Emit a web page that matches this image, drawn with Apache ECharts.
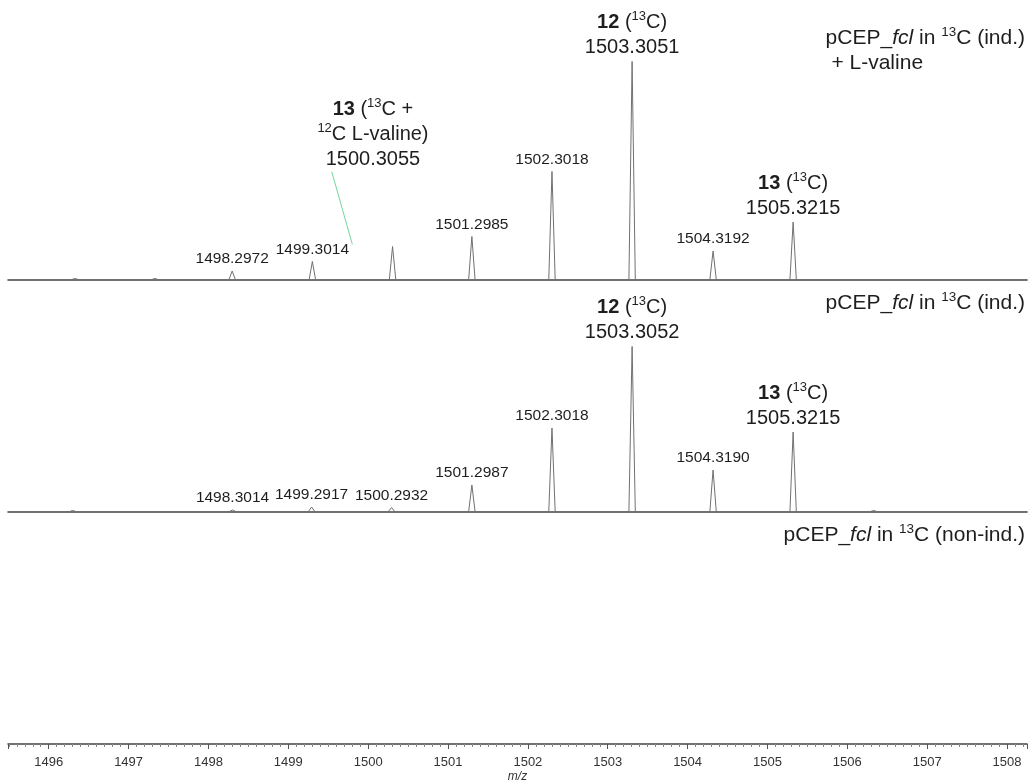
<!DOCTYPE html>
<html>
<head>
<meta charset="utf-8">
<script src="https://cdn.jsdelivr.net/npm/echarts@6/dist/echarts.min.js"></script>
<style>
html, body { margin: 0; background: #fff; }
#main { width: 1032px; height: 782px; }
</style>
</head>
<body>
<div id="main"></div>
<script>
// peaks (m/z, intensity in arbitrary units)
var topMz = [1496.33, 1497.33, 1498.2972, 1499.3014, 1500.3055, 1501.2985, 1502.3018, 1503.3051, 1504.3192, 1505.3215];
var topInt = [1, 1, 8.5, 18, 33, 43, 108, 218, 28.5, 57.5];
var topTag = ['', '', 's', 's', '', 's', 's', '12', 's', '13'];

var midMz = [1496.30, 1498.3014, 1499.2917, 1500.2932, 1501.2987, 1502.3018, 1503.3052, 1504.3190, 1505.3215, 1506.33];
var midInt = [1, 1.5, 4.5, 4, 26.5, 83.5, 165, 41.5, 79.5, 1];
var midTag = ['', 's', 's', 's', 's', 's', '12', 's', '13', ''];

var panelNames = [
	'{n|pCEP_}{i|fcl}{n| in }{sup|13}{n|C (ind.)}\n{n| + L-valine}',
	'{n|pCEP_}{i|fcl}{n| in }{sup|13}{n|C (ind.)}',
	'{n|pCEP_}{i|fcl}{n| in }{sup|13}{n|C (non-ind.)}'
];

// note for the 1500.3055 peak (text anchor and leader line, in m/z / intensity units)
var valineNote = [1500.06, 108];
var valineLeader = [[1499.544, 107.8], [1499.802, 35.2]];

var xMin = 1495.49, xMax = 1508.25, yMax = 232;
var HW = 0.04; // half width of a drawn peak, m/z
var FONT = '"Liberation Sans", Arial, sans-serif';
var INK = '#1e1e1e';

function profile(mz, ints) {
	var pts = [[xMin, 0]];
	for (var i = 0; i < mz.length; i++) {
		pts.push([mz[i] - HW, 0], [mz[i], ints[i]], [mz[i] + HW, 0]);
	}
	pts.push([xMax, 0]);
	return pts;
}

function labelData(mz, ints, tags) {
	var out = [];
	for (var i = 0; i < mz.length; i++) {
		if (!tags[i]) continue;
		out.push({ value: [mz[i], ints[i], tags[i]], label: { distance: tags[i] == 's' ? 4 : 1.5 } });
	}
	return out;
}

function peakLabel(p) {
	var tag = p.value[2], mz = p.value[0].toFixed(4);
	if (tag == 's') return '{s|' + mz + '}';
	return '{b|' + tag + '}{n| (}{sup|13}{n|C)}\n{n|' + mz + '}';
}

var peakRich = {
	s: { fontSize: 15.5, fontFamily: FONT, color: INK, lineHeight: 16, align: 'center' },
	n: { fontSize: 20, fontFamily: FONT, color: INK, lineHeight: 25, align: 'center' },
	b: { fontSize: 20, fontFamily: FONT, color: INK, lineHeight: 25, fontWeight: 'bold', align: 'center' },
	sup: { fontSize: 13, fontFamily: FONT, color: INK, lineHeight: 16, verticalAlign: 'top', align: 'center' }
};

var panelRich = {
	n: { fontSize: 21, fontFamily: FONT, color: INK, lineHeight: 25, fontWeight: 'normal' },
	i: { fontSize: 21, fontFamily: FONT, color: INK, lineHeight: 25, fontWeight: 'normal', fontStyle: 'italic' },
	sup: { fontSize: 13.5, fontFamily: FONT, color: INK, lineHeight: 16, fontWeight: 'normal', verticalAlign: 'top' }
};

var grids = [
	{ left: 8, right: 5, top: 47.5, height: 232, outerBoundsMode: 'none' },
	{ left: 8, right: 5, top: 279.5, height: 232, outerBoundsMode: 'none' },
	{ left: 8, right: 5, top: 511.5, height: 232.5, outerBoundsMode: 'none' }
];

var xAxes = [], yAxes = [];
for (var g = 0; g < 3; g++) {
	var last = g == 2;
	xAxes.push({
		type: 'value', gridIndex: g, min: xMin, max: xMax, splitNumber: 12, z: 3,
		axisLine: { show: true, lineStyle: { color: '#444', width: 1.6 } },
		axisTick: { show: last, length: 5, lineStyle: { color: '#555' } },
		minorTick: { show: last, splitNumber: 10, length: 3, lineStyle: { color: '#888' } },
		axisLabel: {
			show: last, fontSize: 13, fontFamily: FONT, color: '#333', margin: 11.5,
			formatter: function(v) { return Math.abs(v - Math.round(v)) < 1e-6 ? String(Math.round(v)) : ''; }
		},
		splitLine: { show: false },
		name: last ? 'm/z' : '', nameLocation: 'middle', nameGap: 27,
		nameTextStyle: { fontStyle: 'italic', fontSize: 12, fontFamily: FONT, color: '#333' }
	});
	yAxes.push({ type: 'value', gridIndex: g, min: 0, max: yMax, show: false });
}

var lineStyle = { color: '#707070', width: 1 };

function panelTitle(text, top) {
	return { text: text, right: 7, top: top, padding: 0, textStyle: { fontWeight: 'normal', rich: panelRich } };
}

function labelSeries(axis, data, label) {
	return {
		type: 'scatter', xAxisIndex: axis, yAxisIndex: axis, symbolSize: 0, silent: true,
		itemStyle: { opacity: 1 }, data: data, label: label
	};
}

var noteSeries = labelSeries(0, [valineNote], {
	show: true, position: 'top', distance: 0, rich: peakRich,
	formatter: '{b|13}{n| (}{sup|13}{n|C +}\n{sup|12}{n|C L-valine)}\n{n|1500.3055}'
});
noteSeries.markLine = {
	silent: true, symbol: 'none', label: { show: false },
	lineStyle: { color: '#72d6a0', width: 1, type: 'solid' },
	data: [[{ coord: valineLeader[0] }, { coord: valineLeader[1] }]]
};

var option = {
	animation: false,
	backgroundColor: '#fff',
	title: [
		panelTitle(panelNames[0], 25.5),
		panelTitle(panelNames[1], 290.5),
		panelTitle(panelNames[2], 522.5)
	],
	grid: grids,
	xAxis: xAxes,
	yAxis: yAxes,
	series: [
		{ type: 'line', xAxisIndex: 0, yAxisIndex: 0, data: profile(topMz, topInt), showSymbol: false, lineStyle: lineStyle, silent: true },
		{ type: 'line', xAxisIndex: 1, yAxisIndex: 1, data: profile(midMz, midInt), showSymbol: false, lineStyle: lineStyle, silent: true },
		labelSeries(0, labelData(topMz, topInt, topTag), { show: true, position: 'top', formatter: peakLabel, rich: peakRich }),
		labelSeries(1, labelData(midMz, midInt, midTag), { show: true, position: 'top', formatter: peakLabel, rich: peakRich }),
		noteSeries
	]
};

echarts.init(document.getElementById('main')).setOption(option);
</script>
</body>
</html>
